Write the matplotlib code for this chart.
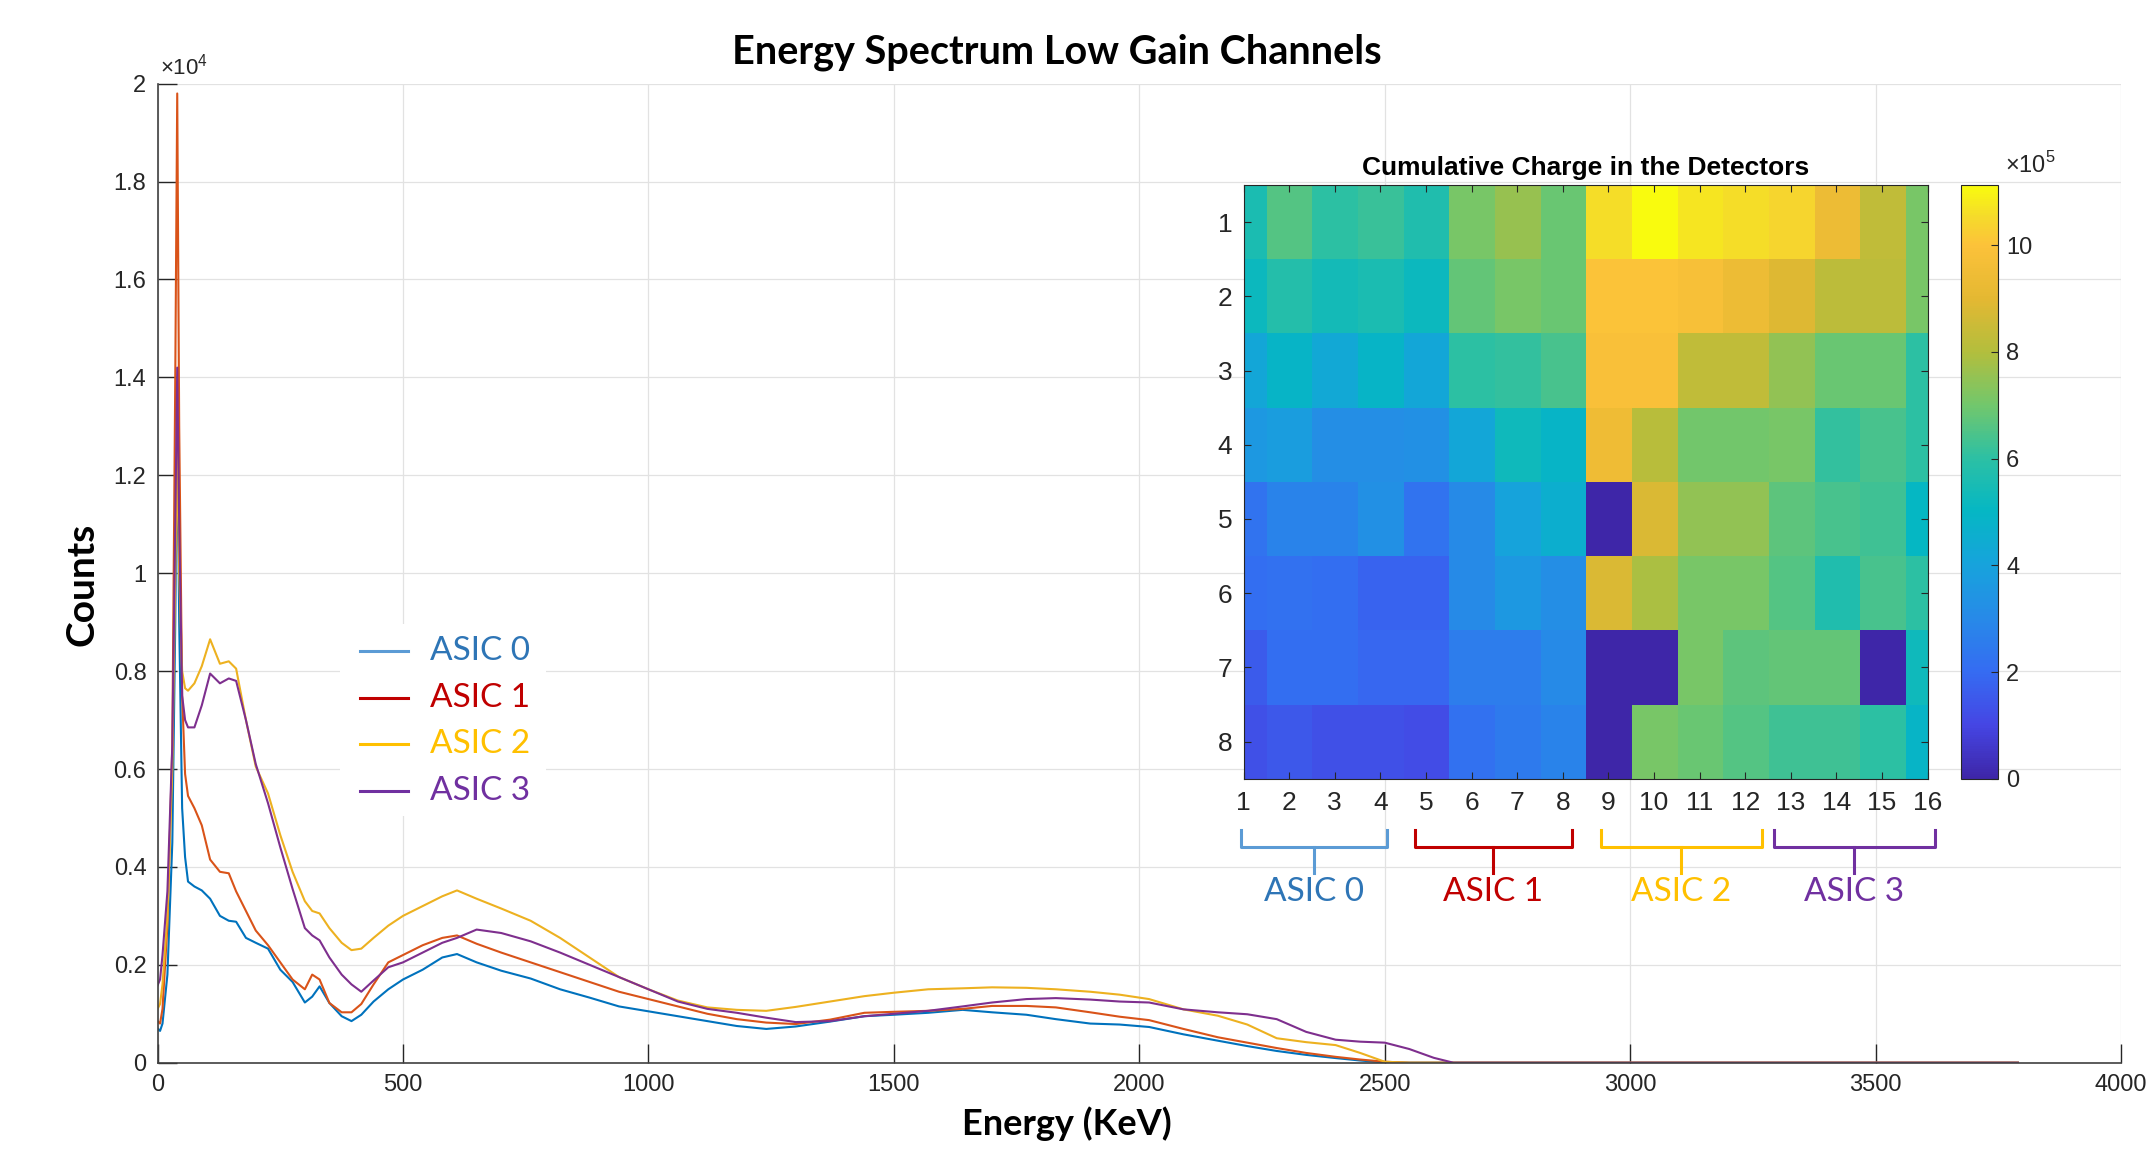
import matplotlib

matplotlib.use("Agg")
import matplotlib.pyplot as plt
import matplotlib.transforms as mtransforms
import numpy as np
from matplotlib.colors import LinearSegmentedColormap
from matplotlib.patches import Rectangle
from matplotlib.ticker import FuncFormatter, MultipleLocator

plt.rcParams["font.family"] = ["Liberation Sans", "DejaVu Sans"]
plt.rcParams["mathtext.fontset"] = "custom"
plt.rcParams["mathtext.rm"] = "Liberation Sans"

# %% spectrum data
ENERGY_KEV = [
    0, 5, 10, 20, 30, 36, 40, 44, 50, 56, 62, 75, 90, 107, 127, 145, 160, 180,
    200, 225, 250, 275, 300, 315, 330, 350, 375, 395, 415, 440, 470, 500, 540,
    580, 610, 650, 700, 760, 820, 880, 940, 1000, 1060, 1120, 1180, 1240, 1300,
    1370, 1440, 1500, 1570, 1640, 1700, 1770, 1830, 1900, 1960, 2020, 2090,
    2160, 2220, 2280, 2340, 2400, 2450, 2500, 2550, 2600, 2640, 2700, 3000,
    3500, 3790,
]
COUNTS_ASIC0 = [
    700, 650, 800, 1800, 4500, 9000, 12900, 9000, 5200, 4200, 3700, 3600, 3520,
    3350, 3000, 2900, 2880, 2550, 2450, 2330, 1900, 1650, 1230, 1350, 1560,
    1220, 950, 850, 980, 1250, 1500, 1700, 1900, 2150, 2220, 2050, 1880, 1720,
    1500, 1330, 1150, 1050, 950, 850, 750, 690, 740, 840, 950, 980, 1020, 1080,
    1030, 980, 890, 800, 780, 730, 580, 450, 340, 240, 160, 95, 45, 5, 0, 0, 0,
    0, 0, 0, 0,
]
COUNTS_ASIC1 = [
    850, 800, 1100, 2800, 6500, 14000, 19800, 13000, 7500, 5900, 5450, 5200,
    4850, 4150, 3900, 3870, 3500, 3100, 2700, 2400, 2050, 1700, 1500, 1800,
    1700, 1220, 1030, 1030, 1200, 1600, 2050, 2200, 2400, 2550, 2600, 2430,
    2250, 2050, 1850, 1650, 1450, 1300, 1150, 1000, 890, 820, 790, 880, 1020,
    1040, 1060, 1100, 1160, 1160, 1130, 1030, 940, 870, 690, 520, 410, 300, 200,
    120, 65, 20, 0, 0, 0, 0, 0, 0, 0,
]
COUNTS_ASIC2 = [
    1100, 1200, 1600, 3000, 6000, 10000, 12500, 10000, 8000, 7650, 7600, 7750,
    8100, 8650, 8150, 8200, 8050, 7000, 6050, 5500, 4650, 3900, 3300, 3100,
    3050, 2750, 2450, 2300, 2330, 2550, 2800, 3000, 3200, 3400, 3520, 3350,
    3150, 2900, 2550, 2150, 1750, 1500, 1270, 1130, 1080, 1060, 1140, 1250,
    1360, 1430, 1500, 1520, 1540, 1530, 1500, 1450, 1390, 1300, 1090, 960, 780,
    500, 420, 360, 200, 20, 0, 0, 0, 0, 0, 0, 0,
]
COUNTS_ASIC3 = [
    1580, 1700, 2200, 3500, 6500, 11000, 14200, 11000, 7500, 7000, 6850, 6850,
    7300, 7950, 7750, 7850, 7800, 7000, 6100, 5300, 4400, 3550, 2750, 2600,
    2500, 2150, 1800, 1600, 1450, 1680, 1950, 2050, 2250, 2450, 2550, 2720,
    2650, 2480, 2250, 2000, 1750, 1500, 1250, 1100, 1020, 920, 830, 850, 950,
    1000, 1060, 1150, 1230, 1300, 1320, 1290, 1250, 1230, 1090, 1030, 990, 890,
    630, 470, 430, 410, 280, 100, 0, 0, 0, 0, 0,
]
ASIC_LABELS = ["ASIC 0", "ASIC 1", "ASIC 2", "ASIC 3"]

# cumulative charge per detector, units of 1e5 (rows 1..8, columns 1..16)
CHARGE_E5 = [
    [5.6, 6.6, 6.0, 6.2, 5.7, 7.1, 7.6, 6.9, 10.6, 11.13, 10.7, 10.6, 10.4, 9.4, 8.3, 7.1],
    [5.2, 5.8, 5.4, 5.6, 5.2, 6.8, 7.1, 6.9, 10.0, 10.0, 9.8, 9.4, 8.9, 8.2, 8.2, 7.1],
    [4.2, 4.9, 4.3, 4.9, 4.2, 6.0, 6.1, 6.4, 9.9, 9.9, 8.3, 8.3, 7.5, 6.9, 6.9, 6.0],
    [3.6, 3.8, 3.2, 3.2, 3.3, 4.2, 5.3, 4.9, 9.5, 8.1, 7.0, 7.0, 7.1, 6.1, 6.4, 6.0],
    [2.3, 2.8, 2.8, 3.3, 2.3, 3.0, 4.0, 4.6, 0.0, 8.8, 7.5, 7.5, 6.7, 6.4, 6.3, 5.0],
    [2.1, 2.2, 2.1, 1.8, 1.8, 3.0, 3.6, 3.2, 8.8, 7.9, 7.1, 7.1, 6.6, 5.7, 6.4, 6.0],
    [1.6, 2.1, 2.1, 1.9, 1.9, 2.6, 2.6, 3.0, 0.0, 0.0, 7.1, 6.7, 6.8, 6.8, 0.0, 5.3],
    [1.3, 1.5, 1.3, 1.3, 1.2, 2.2, 2.5, 2.8, 0.0, 7.1, 6.9, 6.6, 6.3, 6.3, 6.0, 4.9],
]
# column groups read by each ASIC and the span of the bracket drawn under them
BRACKET_LO = [0.94, 4.75, 8.83, 12.63]
BRACKET_HI = [4.15, 8.21, 12.36, 16.16]

# %% styles
LINE_COLORS = ["#0072BD", "#D95319", "#EDB120", "#7E2F8E"]
KEY_LINE_COLORS = ["#5B9BD5", "#C00000", "#FFC000", "#7030A0"]
KEY_TEXT_COLORS = ["#2E75B6", "#C00000", "#FFC000", "#7030A0"]
PARULA_ANCHORS = [
    (0.00, "#3e26a8"), (0.09, "#4546e4"), (0.18, "#356cf2"), (0.27, "#278ae8"),
    (0.36, "#17a3dc"), (0.45, "#05b7c4"), (0.54, "#2cc0a4"), (0.63, "#72c76c"),
    (0.72, "#b3be3d"), (0.81, "#e4b832"), (0.90, "#fcc23a"), (0.95, "#f5dc2a"),
    (1.00, "#f9fb0e"),
]
parula = LinearSegmentedColormap.from_list("parula_like", PARULA_ANCHORS)
TXT = "#262626"
CAL = "Lato"

fig = plt.figure(figsize=(21.5, 11.51), dpi=100)

# %% main spectrum axes
ax = fig.add_axes([0.0733, 0.0767, 0.9132, 0.8506])
for counts, color in zip(
    [COUNTS_ASIC0, COUNTS_ASIC1, COUNTS_ASIC2, COUNTS_ASIC3], LINE_COLORS
):
    ax.plot(ENERGY_KEV, counts, color=color, lw=1.5, zorder=2)

ax.xaxis.set_major_locator(MultipleLocator(500))
ax.yaxis.set_major_locator(MultipleLocator(2000))
ax.yaxis.set_major_formatter(FuncFormatter(lambda v, _: f"{v / 1e4:g}"))
ax.grid(True, color="#e2e2e2", lw=0.9)
ax.set_axisbelow(True)
for side in ("top", "right"):
    ax.spines[side].set_visible(False)
for side in ("left", "bottom"):
    ax.spines[side].set_color("#404040")
    ax.spines[side].set_linewidth(1.2)
ax.tick_params(direction="in", length=14, width=1, colors=TXT, labelsize=17, pad=8)
ax.text(0.001, 1.018, r"$\times10^{4}$", transform=ax.transAxes, fontsize=16,
        color=TXT, ha="left", va="center")
ax.text(-0.0386, 0.489, "Counts", transform=ax.transAxes, rotation=90,
        ha="center", va="center", fontsize=28, fontweight="bold", family=CAL)
ax.text(0.463, -0.0626, "Energy (KeV)", transform=ax.transAxes,
        ha="center", va="center", fontsize=26, fontweight="bold", family=CAL)

# legend pasted over the plot
ax.add_patch(Rectangle((0.0929, 0.252), 0.105, 0.196, transform=ax.transAxes,
                       facecolor="white", edgecolor="none", zorder=3))
for i, (lab, lc, tc) in enumerate(zip(ASIC_LABELS, KEY_LINE_COLORS, KEY_TEXT_COLORS)):
    y = 0.4205 - i * 0.0477
    ax.plot([0.103, 0.1275], [y, y], transform=ax.transAxes, color=lc, lw=2.2, zorder=4)
    ax.text(0.1387, y, lab, transform=ax.transAxes, color=tc, fontsize=24,
            family=CAL, ha="left", va="center", zorder=4)

ax.set_xlim(0, 4000)
ax.set_ylim(0, 20000)

fig.text(0.4916, 0.955, "Energy Spectrum Low Gain Channels", ha="center",
         va="center", fontsize=28.5, fontweight="bold", family=CAL)

# %% inset heatmap
charge = np.array(CHARGE_E5) * 1e5
hax = fig.add_axes([0.5784, 0.3234, 0.3182, 0.5159])
n_rows, n_cols = charge.shape
im = hax.imshow(charge, cmap=parula, vmin=0, vmax=charge.max(), aspect="auto",
                interpolation="nearest",
                extent=(0.5, n_cols + 0.5, n_rows + 0.5, 0.5))
hax.set_xticks(np.arange(1, n_cols + 1))
hax.set_yticks(np.arange(1, n_rows + 1))
hax.tick_params(direction="in", top=True, right=True, length=5, width=0.8,
                colors=TXT, labelsize=19)
hax.tick_params(axis="x", pad=9)
hax.tick_params(axis="y", pad=8)
for sp in hax.spines.values():
    sp.set_color(TXT)
    sp.set_linewidth(0.8)
hax.set_title("Cumulative Charge in the Detectors", fontsize=19,
              fontweight="bold", pad=7)

trans = mtransforms.blended_transform_factory(hax.transData, hax.transAxes)
for lo, hi, lab, lc, tc in zip(BRACKET_LO, BRACKET_HI, ASIC_LABELS,
                               KEY_LINE_COLORS, KEY_TEXT_COLORS):
    mid = 0.5 * (lo + hi)
    hax.plot([lo, lo, hi, hi], [-0.086, -0.115, -0.115, -0.086], transform=trans,
             clip_on=False, color=lc, lw=2.2, solid_joinstyle="round")
    hax.plot([mid, mid], [-0.115, -0.158], transform=trans, clip_on=False,
             color=lc, lw=2.2)
    hax.text(mid, -0.19, lab, transform=trans, ha="center", va="center",
             fontsize=24, color=tc, family=CAL)

hax.set_xlim(1, n_cols)
hax.set_ylim(n_rows + 0.5, 0.5)

cax = fig.add_axes([0.912, 0.3234, 0.0172, 0.5159])
cb = fig.colorbar(im, cax=cax)
cb.set_ticks(np.arange(0, 11e5, 2e5))
cb.ax.yaxis.set_major_formatter(FuncFormatter(lambda v, _: f"{v / 1e5:g}"))
cax.tick_params(direction="in", length=5, width=0.8, colors=TXT, labelsize=17, pad=6)
cb.outline.set_edgecolor(TXT)
cb.outline.set_linewidth(0.8)
fig.text(0.9326, 0.8566, r"$\times10^{5}$", fontsize=17, color=TXT,
         ha="left", va="center")

fig.savefig("out.png", dpi=100)
